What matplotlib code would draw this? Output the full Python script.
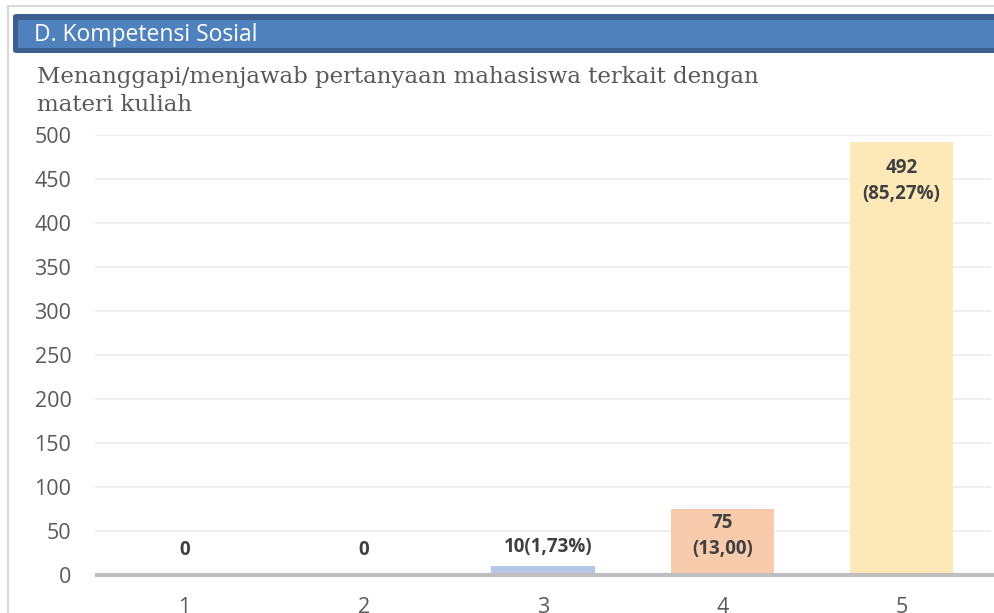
import matplotlib.pyplot as plt
from matplotlib.patches import Rectangle, FancyBboxPatch
from matplotlib.lines import Line2D

# --- chart data ---
categories = ['1', '2', '3', '4', '5']
counts = [0, 0, 10, 75, 492]
bar_labels = ['0', '0', '10(1,73%)', '75\n(13,00)', '492\n(85,27%)']
bar_colors = ['#b4c7e7', '#b4c7e7', '#b4c7e7', '#f8cbad', '#fde9b8']
y_ticks = [0, 50, 100, 150, 200, 250, 300, 350, 400, 450, 500]

header = 'D. Kompetensi Sosial'
subtitle = 'Menanggapi/menjawab pertanyaan mahasiswa terkait dengan\nmateri kuliah'

W, H = 995, 613
fig = plt.figure(figsize=(W / 100, H / 100), dpi=100)

def fx(px):
    return px / W

def fy(py):
    return 1 - py / H

# page frame lines
fig.add_artist(Line2D([fx(8), 1], [fy(5.5), fy(5.5)], color='#d9d9d9', lw=1.5))
fig.add_artist(Line2D([fx(8), fx(8)], [fy(5.5), 0], color='#d9d9d9', lw=1.5))

# header bar
fig.add_artist(FancyBboxPatch((fx(13), fy(53)), fx(W + 20) - fx(13), fy(14) - fy(53),
                              boxstyle='round,pad=0,rounding_size=0.004',
                              facecolor='#3d5f8f', edgecolor='none'))
fig.add_artist(Rectangle((fx(18), fy(48)), 1, fy(20) - fy(48),
                         facecolor='#4f81bd', edgecolor='none'))
fig.text(fx(34), fy(35), header, color='white', fontsize=16.5,
         family='Open Sans', va='center', ha='left')

# subtitle
fig.text(fx(37), fy(91), subtitle, color='#595959', fontsize=16.5,
         family='DejaVu Serif', va='center', ha='left', linespacing=1.3)

# axes
ax = fig.add_axes([fx(95), fy(575), fx(991) - fx(95), fy(135) - fy(575)])
x = range(len(categories))
ax.bar(x, counts, width=0.575, color=bar_colors, zorder=2)
ax.set_xlim(-0.5, len(categories) - 0.5)
ax.set_ylim(0, 500)
ax.set_yticks(y_ticks)
ax.set_xticks(list(x))
ax.set_xticklabels(categories)
ax.tick_params(axis='both', length=0, labelsize=15.5, labelcolor='#595959')
ax.tick_params(axis='y', pad=17)
ax.tick_params(axis='x', pad=16)
for lab in ax.get_xticklabels() + ax.get_yticklabels():
    lab.set_family('Open Sans')
ax.grid(axis='y', color='#ececec', lw=1.2, zorder=0)
for s in ax.spines.values():
    s.set_visible(False)
ax.plot([-0.5, len(categories) - 0.5 + 0.03], [0, 0], color='#bfbfbf', lw=3,
        zorder=3, clip_on=False, solid_capstyle='butt')

# data labels (positions)
label_y = [28, 28, 32, 44, 448]
label_dx = [0, 0, 0.03, 0, 0]
for i, (txt, yv) in enumerate(zip(bar_labels, label_y)):
    ax.text(i + label_dx[i], yv, txt, ha='center', va='center', fontsize=13.5,
            fontweight='bold', color='#404040', family='Open Sans',
            linespacing=1.4, zorder=4)

fig.savefig('out.png', dpi=100)
